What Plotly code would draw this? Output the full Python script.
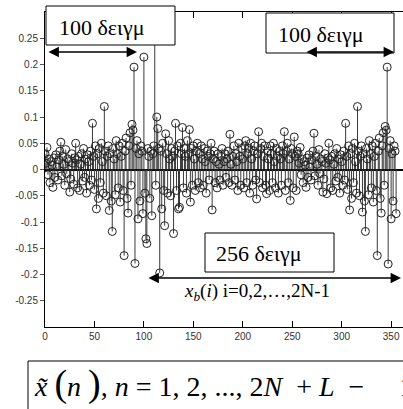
import plotly.graph_objects as go

# ---------------- data ----------------
# x_b(i), i = 0 .. 255  (one OFDM-like block of 256 samples)
xb_values = [
    0.030, 0.012, 0.042, -0.010, 0.020, -0.025, 0.015, 0.008, -0.034, 0.022, -0.015, 0.028, 0.005, -0.020, 0.018, 0.035,
    0.052, -0.012, 0.025, 0.010, -0.030, 0.038, -0.008, 0.020, 0.015, -0.043, -0.018, 0.030, 0.012, -0.028, 0.022, 0.050,
    0.018, -0.035, 0.025, -0.040, 0.010, 0.030, -0.022, 0.040, -0.015, 0.020, -0.045, 0.028, 0.015, -0.030, 0.035, -0.020,
    0.088, 0.025, -0.038, 0.045, -0.075, 0.030, -0.055, 0.040, -0.025, 0.050, 0.015, -0.045, 0.120, 0.035, -0.050, 0.025,
    0.045, -0.078, 0.030, -0.060, -0.118, 0.040, 0.020, -0.048, 0.055, 0.030, -0.035, 0.045, -0.062, 0.025, 0.050, -0.040,
    -0.164, 0.035, 0.060, -0.055, -0.083, 0.045, 0.070, -0.030, 0.086, 0.075, 0.195, -0.179, 0.040, 0.055, -0.094, 0.030,
    -0.060, 0.045, 0.035, -0.084, 0.214, -0.045, -0.132, -0.141, 0.040, 0.025, -0.055, 0.035, -0.088, 0.030, 0.045, 0.270,
    -0.030, 0.100, 0.078, 0.040, -0.197, 0.035, -0.075, 0.050, -0.040, -0.107, 0.068, 0.030, -0.045, 0.055, 0.020, -0.050,
    0.040, 0.025, -0.122, 0.035, 0.088, -0.040, 0.045, -0.075, -0.072, 0.050, 0.030, 0.080, -0.035, 0.040, 0.025, -0.045,
    0.055, 0.030, 0.076, -0.062, 0.040, -0.030, 0.045, 0.020, -0.040, 0.035, 0.050, -0.025, 0.030, -0.035, 0.045, 0.020,
    -0.030, 0.040, 0.015, -0.045, 0.035, 0.025, -0.020, 0.030, 0.050, -0.077, 0.020, 0.035, -0.025, 0.015, -0.035, 0.030,
    0.010, -0.020, 0.025, 0.040, -0.030, 0.015, 0.030, -0.015, 0.020, 0.035, -0.025, 0.067, 0.010, -0.030, 0.025, 0.045,
    -0.020, 0.030, 0.015, -0.040, 0.050, 0.025, -0.030, 0.040, 0.020, -0.035, 0.045, 0.055, -0.025, 0.030, 0.040, -0.045,
    0.050, 0.020, -0.030, 0.035, 0.045, -0.020, -0.056, 0.030, 0.072, -0.025, 0.040, 0.050, -0.035, 0.025, 0.045, -0.030,
    -0.046, 0.035, 0.020, -0.040, 0.045, 0.030, -0.025, 0.050, 0.015, -0.035, 0.040, 0.025, -0.045, 0.035, 0.020, -0.030,
    0.045, 0.030, 0.072, -0.040, 0.035, 0.050, -0.025, 0.020, -0.059, 0.040, 0.030, -0.035, 0.062, 0.025, -0.040, 0.035,
]

# the 100 repeated samples drawn after the block (samples 256 .. 355)
repeat_values = [
    0.030, 0.012, 0.042, -0.010, 0.020, -0.025, 0.015, 0.008, -0.034, 0.022, -0.015, 0.028, 0.005, -0.020, 0.018, 0.035,
    0.069, -0.012, 0.025, 0.010, -0.030, 0.038, -0.008, 0.020, 0.015, -0.043, -0.018, 0.030, 0.012, -0.046, 0.022, 0.050,
    0.018, -0.035, 0.025, -0.040, 0.010, 0.030, -0.022, 0.040, -0.015, 0.020, -0.045, 0.028, 0.015, -0.030, 0.035, -0.020,
    0.088, 0.025, -0.038, 0.045, -0.077, 0.030, -0.055, 0.040, -0.025, 0.050, 0.015, -0.045, 0.120, 0.035, -0.050, 0.025,
    0.045, -0.081, 0.030, -0.060, -0.118, 0.040, 0.020, -0.048, 0.055, 0.030, -0.035, 0.045, -0.062, 0.025, 0.050, -0.040,
    -0.164, 0.035, 0.060, -0.055, -0.083, 0.045, 0.070, -0.030, 0.082, 0.075, 0.195, -0.180, 0.040, 0.055, -0.094, 0.030,
    -0.060, 0.045, 0.035, -0.084,
]

x_tick_values = [0, 50, 100, 150, 200, 250, 300, 350]
y_tick_values = [-0.25, -0.2, -0.15, -0.1, -0.05, 0, 0.05, 0.1, 0.15, 0.2, 0.25]
y_tick_labels = ["-0.25", "-0.2", "-0.15", "-0.1", "-0.05", "0", "0.05", "0.1", "0.15", "0.2", "0.25"]

# ---------------- figure ----------------
W, H = 403, 409
ML, MR, MT, MB = 45, 0, 12, 82

series = xb_values + repeat_values
idx = list(range(len(series)))

stem_x, stem_y = [], []
for i, v in zip(idx, series):
    stem_x += [i, i, None]
    stem_y += [0, v, None]

fig = go.Figure()
fig.add_trace(go.Scatter(x=stem_x, y=stem_y, mode="lines",
                         line=dict(color="#3a3a3a", width=1), hoverinfo="skip", showlegend=False))
fig.add_trace(go.Scatter(x=idx, y=series, mode="markers",
                         marker=dict(symbol="circle-open", size=8, color="#222222", line=dict(width=1)),
                         showlegend=False))


def px_x(px):
    return (px - ML) / (W - ML - MR)


def px_y(py):
    return (H - MB - py) / (H - MT - MB)


serif = "Liberation Serif, Times New Roman, serif"
shapes = []
annotations = []


def box(x0, y0, x1, y1):
    shapes.append(dict(type="rect", xref="paper", yref="paper",
                       x0=px_x(x0), x1=px_x(x1), y0=px_y(y1), y1=px_y(y0),
                       line=dict(color="black", width=1), fillcolor="white", layer="above"))


def label(text, px, py, size):
    annotations.append(dict(text=text, xref="paper", yref="paper", x=px_x(px), y=px_y(py),
                            xanchor="left", yanchor="middle", showarrow=False,
                            font=dict(family=serif, size=size, color="black")))


def darrow(x_from, x_to, py):
    annotations.append(dict(text="", xref="paper", yref="paper", x=px_x(x_to), y=px_y(py),
                            axref="pixel", ayref="pixel", ax=x_from - x_to, ay=0,
                            showarrow=True, arrowside="end+start", arrowhead=2,
                            arrowsize=1.3, arrowwidth=1.6, arrowcolor="black", standoff=0,
                            startstandoff=0))


box(46, 6, 175, 45)
label("100 δειγμ", 57, 27, 22)
darrow(47, 137, 52)

box(266, 13, 394, 53)
label("100 δειγμ", 276, 35, 22)
darrow(305, 394, 52)

box(205, 233, 334, 272)
label("256 δειγμ", 214, 254, 22)
darrow(147, 401, 278)

label("<i>x</i><sub><i>b</i></sub>(<i>i</i>) i=0,2,…,2N-1", 182, 292, 19)

# bottom formula box (cut by the picture edge)
box(28, 361, 460, 470)
NB = "\u00a0"
big = "<span style='font-size:38px'>{}</span>"
formula = ("<i>x̃</i> " + big.format("(") + "<i>n</i> " + big.format(")") + ", <i>n</i> = 1, 2, ...,"
           + " 2<i>N</i>" + NB * 2 + "+" + NB + "<i>L</i>" + NB * 2 + "−" + NB * 5 + "1")
label(formula, 32, 383, 28)

fig.update_layout(
    width=W, height=H, autosize=False,
    margin=dict(l=ML, r=MR, t=MT, b=MB, pad=0),
    paper_bgcolor="white", plot_bgcolor="white",
    shapes=shapes, annotations=annotations,
    xaxis=dict(range=[0, 362], tickvals=x_tick_values, ticks="inside", ticklen=6,
               tickcolor="black", showline=True, linecolor="black", linewidth=1,
               mirror="ticks", showgrid=False, zeroline=False,
               tickfont=dict(family="Liberation Sans, Arial", size=10, color="#333333")),
    yaxis=dict(range=[-0.3, 0.3], tickvals=y_tick_values, ticktext=y_tick_labels,
               ticks="outside", ticklen=4, tickcolor="#555555",
               showline=True, linecolor="black", linewidth=1, showgrid=False,
               zeroline=True, zerolinecolor="black", zerolinewidth=1.5,
               tickfont=dict(family="Liberation Sans, Arial", size=10, color="#333333")),
)

fig.write_html("out.html", config={"displayModeBar": False},
               post_script="document.body.style.margin='0';document.body.style.padding='0';")
